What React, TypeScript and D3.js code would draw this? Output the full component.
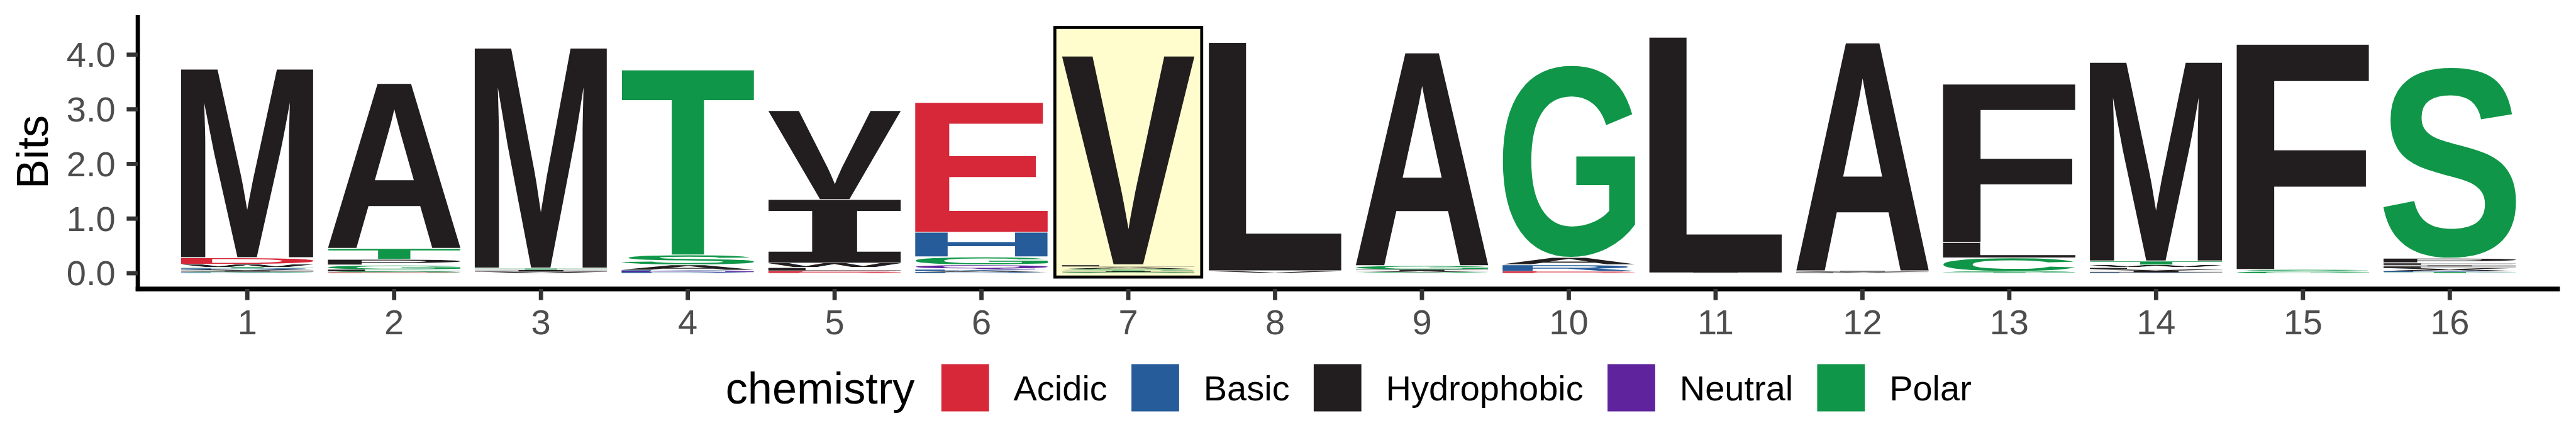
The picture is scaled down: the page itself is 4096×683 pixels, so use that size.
import React, { useMemo } from 'react';
import * as d3 from 'd3';

// ---------------- data ----------------
const positions = d3.range(1, 17);

// letters of each position, stacked bottom -> top
const logoLetters: string[][] = [
  ['K', 'S', 'I', 'V', 'R', 'T', 'W', 'D', 'M'],
  ['E', 'S', 'L', 'G', 'P', 'T', 'A'],
  ['V', 'I', 'T', 'M'],
  ['R', 'N', 'K', 'A', 'S', 'T'],
  ['D', 'E', 'L', 'W', 'I', 'V'],
  ['R', 'A', 'K', 'Q', 'G', 'H', 'E'],
  ['G', 'I', 'T', 'S', 'A', 'L', 'V'],
  ['V', 'L'],
  ['S', 'V', 'I', 'G', 'A'],
  ['D', 'E', 'R', 'A', 'G'],
  ['I', 'L'],
  ['L', 'V', 'I', 'A'],
  ['T', 'S', 'C', 'L', 'F'],
  ['K', 'I', 'V', 'L', 'W', 'T', 'M'],
  ['G', 'S', 'F'],
  ['T', 'K', 'A', 'V', 'L', 'I', 'F', 'P', 'S'],
];

// information (bits) carried by each letter, same order
const logoBits: number[][] = [
  [0.015, 0.015, 0.02, 0.02, 0.02, 0.02, 0.055, 0.12, 3.447],
  [0.015, 0.02, 0.03, 0.085, 0.105, 0.2, 3.015],
  [0.03, 0.03, 0.035, 4.022],
  [0.02, 0.015, 0.02, 0.1, 0.18, 3.385],
  [0.015, 0.025, 0.065, 0.08, 1.165, 1.627],
  [0.02, 0.02, 0.025, 0.09, 0.145, 0.45, 2.374],
  [0.02, 0.015, 0.015, 0.02, 0.045, 0.04, 3.818],
  [0.045, 4.177],
  [0.02, 0.02, 0.025, 0.075, 3.89],
  [0.015, 0.02, 0.12, 0.135, 3.507],
  [0.006, 4.31],
  [0.015, 0.015, 0.015, 4.165],
  [0.015, 0.02, 0.245, 0.28, 2.899],
  [0.015, 0.03, 0.025, 0.035, 0.045, 0.075, 3.632],
  [0.03, 0.04, 4.118],
  [0.02, 0.02, 0.03, 0.025, 0.03, 0.02, 0.045, 0.085, 3.485],
];

const chemistryGroups = ['Acidic', 'Basic', 'Hydrophobic', 'Neutral', 'Polar'];
const chemistryMembers = ['DE', 'KRH', 'AVLIPWFM', 'QN', 'GSTYC'];
const chemistryColors = ['#D62839', '#255C99', '#221E1F', '#5E239D', '#109648'];

const yTicks = [0, 1, 2, 3, 4];

const highlightX = [6.5, 7.5];
const highlightY = [-0.07, 4.5];

// ---------------- layout (reference pixels, scaled by viewBox) ----------------
const W = 6000;
const H = 1000;
const FONT = '"Liberation Sans", Arial, Helvetica, sans-serif';
const GLYPH_FS = 400;
const LETTER_HALF = 0.45;

type Ink = { left: number; right: number; top: number; bottom: number };

function scanInk(ch: string): Ink {
  const size = 700;
  const ox = 150;
  const oy = 550;
  const canvas = document.createElement('canvas');
  canvas.width = size;
  canvas.height = size;
  const ctx = canvas.getContext('2d')!;
  ctx.font = `bold ${GLYPH_FS}px "Liberation Sans"`;
  ctx.fillStyle = '#000';
  ctx.fillText(ch, ox, oy);
  const data = ctx.getImageData(0, 0, size, size).data;
  let minX = 1e9, maxX = -1, minY = 1e9, maxY = -1;
  for (let yy = 0; yy < size; yy++) {
    for (let xx = 0; xx < size; xx++) {
      if (data[(yy * size + xx) * 4 + 3] > 110) {
        if (xx < minX) minX = xx;
        if (xx > maxX) maxX = xx;
        if (yy < minY) minY = yy;
        if (yy > maxY) maxY = yy;
      }
    }
  }
  if (maxX < 0) {
    const t = ctx.measureText(ch);
    return { left: -t.actualBoundingBoxLeft, right: t.actualBoundingBoxRight, top: -t.actualBoundingBoxAscent, bottom: t.actualBoundingBoxDescent };
  }
  return { left: minX - ox, right: maxX + 1 - ox, top: minY - oy, bottom: maxY + 1 - oy };
}

export default function App() {
  const x = d3.scaleLinear().domain([0.25, 16.75]).range([319.5, 5962.5]);
  const y = d3.scaleLinear().domain([0, 4]).range([635.5, 127]);
  const color = d3
    .scaleOrdinal<string, string>()
    .domain(chemistryGroups)
    .range(chemistryColors);
  const groupOf = (ch: string) =>
    chemistryGroups[chemistryMembers.findIndex((m) => m.includes(ch))];

  const metrics = useMemo(() => {
    const out: Record<string, Ink> = {};
    'ACDEFGHKLMNPQRSTVWY'.split('').forEach((ch) => {
      out[ch] = scanInk(ch);
    });
    const canvas = document.createElement('canvas');
    const ctx = canvas.getContext('2d')!;
    ctx.font = `103px ${FONT}`;
    const titleW = ctx.measureText('chemistry').width;
    ctx.font = `82px ${FONT}`;
    const labelW = chemistryGroups.map((g) => ctx.measureText(g).width);
    return { glyph: out, titleW, labelW };
  }, []);

  // stacked letters
  const glyphs: React.ReactNode[] = [];
  positions.forEach((pos, pi) => {
    let cum = 0;
    logoLetters[pi].forEach((ch, li) => {
      const h = logoBits[pi][li];
      const x0 = x(pos - LETTER_HALF);
      const x1 = x(pos + LETTER_HALF);
      let yt = y(cum + h);
      let yb = y(cum);
      cum += h;
      if (yb - yt > 4) {
        yt += 1;
        yb -= 1;
      }
      const fill = color(groupOf(ch));
      const bw = x1 - x0;
      const bh = yb - yt;
      if (ch === 'I') {
        const s = 0.175;
        glyphs.push(
          <path
            key={`${pos}-${li}`}
            fill={fill}
            d={`M${x0},${yt}h${bw}v${bh * s}h${-bw * 0.33}v${bh * (1 - 2 * s)}h${bw * 0.33}v${bh * s}h${-bw}v${-bh * s}h${bw * 0.33}v${-bh * (1 - 2 * s)}h${-bw * 0.33}Z`}
          />
        );
        return;
      }
      const m = metrics.glyph[ch];
      const sx = bw / (m.right - m.left);
      const sy = bh / (m.bottom - m.top);
      glyphs.push(
        <text
          key={`${pos}-${li}`}
          fontFamily={FONT}
          fontWeight="bold"
          fontSize={GLYPH_FS}
          fill={fill}
          transform={`translate(${x0},${yt}) scale(${sx},${sy}) translate(${-m.left},${-m.top})`}
        >
          {ch}
        </text>
      );
    });
  });

  // legend layout (centered under panel)
  const keySize = 111;
  const keyToLabel = 57;
  const itemGap = 56;
  const titleGap = 62;
  const totalLegend =
    metrics.titleW +
    titleGap +
    d3.sum(metrics.labelW) +
    chemistryGroups.length * (keySize + keyToLabel) +
    itemGap * (chemistryGroups.length - 1);
  const panelCenter = (x.range()[0] + x.range()[1]) / 2;
  const legendStart = panelCenter - totalLegend / 2;
  let cursor = legendStart + metrics.titleW + titleGap;
  const legendItems = chemistryGroups.map((g, i) => {
    const kx = cursor;
    const lx = kx + keySize + keyToLabel;
    cursor = lx + metrics.labelW[i] + itemGap;
    return { g, kx, lx };
  });

  const fmt = d3.format('.1f');
  const axisX = 321;
  const axisY = 672;
  const axisTop = 35;

  return (
    <svg
      width={4096}
      height={683}
      viewBox={`0 0 ${W} ${H}`}
      style={{ position: 'absolute', left: 0, top: 0, background: '#fff' }}
    >
      <rect x={0} y={0} width={W} height={H} fill="#fff" />

      {/* highlight */}
      <rect
        x={x(highlightX[0])}
        y={y(highlightY[1])}
        width={x(highlightX[1]) - x(highlightX[0])}
        height={y(highlightY[0]) - y(highlightY[1])}
        fill="#FFFDCD"
        stroke="#000"
        strokeWidth={7}
      />

      {glyphs}

      {/* y axis */}
      <line x1={axisX} x2={axisX} y1={axisTop} y2={axisY + 5} stroke="#000" strokeWidth={10} />
      {yTicks.map((t) => (
        <g key={t}>
          <line x1={295} x2={axisX} y1={y(t)} y2={y(t)} stroke="#333" strokeWidth={10} />
          <text
            x={269}
            y={y(t) + 28.5}
            textAnchor="end"
            fontFamily={FONT}
            fontSize={82}
            fill="#4D4D4D"
          >
            {fmt(t)}
          </text>
        </g>
      ))}
      <text
        transform={`translate(111,${(axisTop + axisY) / 2}) rotate(-90)`}
        textAnchor="middle"
        fontFamily={FONT}
        fontSize={103}
        fill="#000"
      >
        Bits
      </text>

      {/* x axis */}
      <line x1={axisX - 5} x2={x.range()[1]} y1={axisY} y2={axisY} stroke="#000" strokeWidth={11} />
      {positions.map((p) => (
        <g key={p}>
          <line x1={x(p)} x2={x(p)} y1={axisY} y2={698} stroke="#333" strokeWidth={10} />
          <text
            x={x(p)}
            y={778}
            textAnchor="middle"
            fontFamily={FONT}
            fontSize={82}
            fill="#4D4D4D"
          >
            {p}
          </text>
        </g>
      ))}

      {/* legend */}
      <text x={legendStart} y={939} fontFamily={FONT} fontSize={103} fill="#000">
        chemistry
      </text>
      {legendItems.map(({ g, kx, lx }) => (
        <g key={g}>
          <rect x={kx} y={847} width={keySize} height={110} fill={color(g)} />
          <text x={lx} y={931} fontFamily={FONT} fontSize={82} fill="#000">
            {g}
          </text>
        </g>
      ))}
    </svg>
  );
}
